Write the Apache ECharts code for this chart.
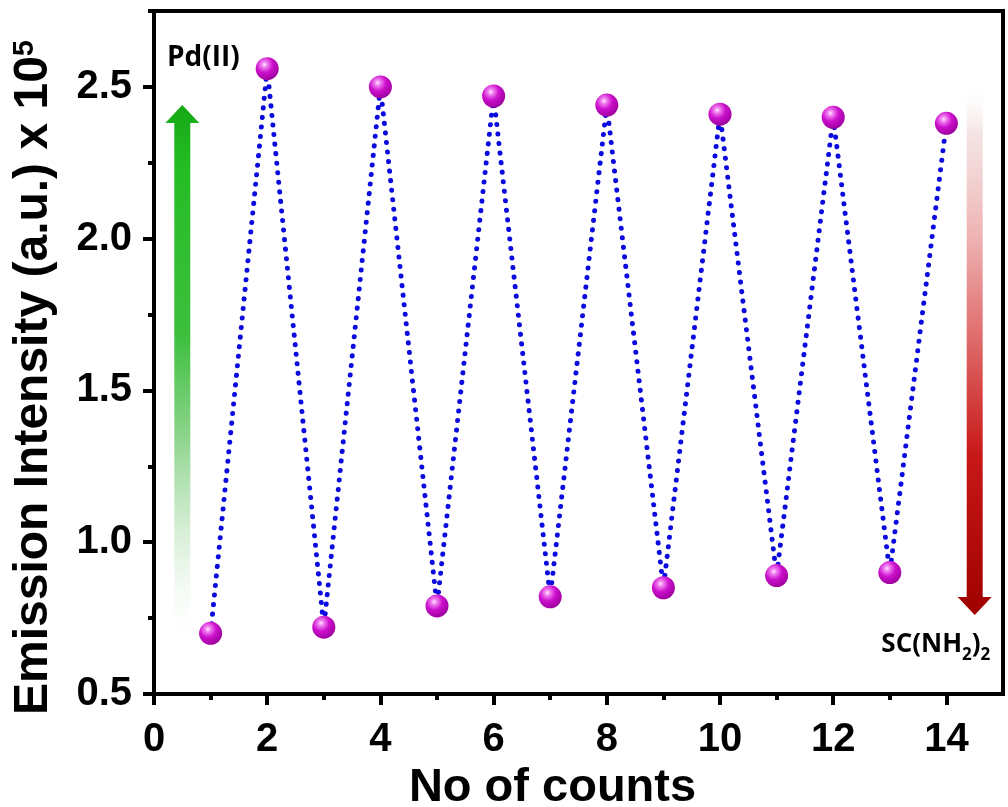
<!DOCTYPE html>
<html>
<head>
<meta charset="utf-8">
<script src="https://cdn.jsdelivr.net/npm/echarts@6/dist/echarts.min.js"></script>
<style>
  html, body { margin: 0; padding: 0; background: #fff; }
  #chart { width: 1008px; height: 807px; }
</style>
</head>
<body>
<div id="chart"></div>
<script>
// ---- data ----
const counts = [1, 2, 3, 4, 5, 6, 7, 8, 9, 10, 11, 12, 13, 14];
const intensity = [0.70, 2.56, 0.72, 2.50, 0.79, 2.47, 0.82, 2.44, 0.85, 2.41, 0.89, 2.40, 0.90, 2.38];
const xTickValues = [0, 2, 4, 6, 8, 10, 12, 14];
const xMinorTickValues = [1, 3, 5, 7, 9, 11, 13];
const yTickValues = [0.5, 1.0, 1.5, 2.0, 2.5];
const yMinorTickValues = [0.75, 1.25, 1.75, 2.25, 2.75];
const xTitle = 'No of counts';
const yTitle = 'Emission Intensity (a.u.) x 10';
const yTitleExp = '5';
const topLabel = 'Pd(II)';

const seriesData = counts.map((c, i) => [c, intensity[i]]);

const FONT = '"Liberation Sans", Arial, sans-serif';
const LFONT = '"Open Sans", sans-serif';
const chart = echarts.init(document.getElementById('chart'), null, { renderer: 'canvas' });

const baseX = { type: 'value', min: 0, max: 15, position: 'bottom' };
const baseY = { type: 'value', min: 0.5, max: 2.75, position: 'left' };

const option = {
  backgroundColor: '#fff',
  animation: false,
  grid: {
    left: 154, right: 5, top: 11, bottom: 113,
    containLabel: false, outerBoundsMode: 'none',
    show: true, borderColor: '#000', borderWidth: 4, backgroundColor: 'transparent'
  },
  xAxis: [
    Object.assign({}, baseX, {
      name: xTitle,
      nameLocation: 'middle',
      nameGap: 71,
      nameTextStyle: { fontFamily: FONT, fontWeight: 'bold', fontSize: 47, color: '#000', padding: [0, 52, 0, 0] },
      axisLine: { show: true, lineStyle: { color: '#000', width: 4 } },
      axisTick: { show: true, inside: false, length: 11, lineStyle: { color: '#000', width: 4 }, customValues: xTickValues },
      axisLabel: { show: true, margin: 26, fontFamily: FONT, fontWeight: 'bold', fontSize: 40, color: '#000', customValues: xTickValues },
      splitLine: { show: false }
    }),
    Object.assign({}, baseX, {
      axisLine: { show: false },
      axisTick: { show: true, inside: false, length: 6, lineStyle: { color: '#000', width: 4 }, customValues: xMinorTickValues },
      axisLabel: { show: false },
      splitLine: { show: false }
    })
  ],
  yAxis: [
    Object.assign({}, baseY, {
      name: yTitle + '{sup|' + yTitleExp + '}',
      nameLocation: 'middle',
      nameRotate: 90,
      nameGap: 96,
      nameTextStyle: {
        fontFamily: FONT, fontWeight: 'bold', fontSize: 48, color: '#000', padding: [0, 50, 0, 0],
        rich: { sup: { fontFamily: FONT, fontWeight: 'bold', fontSize: 29, color: '#000', verticalAlign: 'top' } }
      },
      axisLine: { show: true, lineStyle: { color: '#000', width: 4 } },
      axisTick: { show: true, inside: false, length: 11, lineStyle: { color: '#000', width: 4 }, customValues: yTickValues },
      axisLabel: { show: true, margin: 22, fontFamily: FONT, fontWeight: 'bold', fontSize: 40, color: '#000', customValues: yTickValues, formatter: v => Number(v).toFixed(1) },
      splitLine: { show: false }
    }),
    Object.assign({}, baseY, {
      axisLine: { show: false },
      axisTick: { show: true, inside: false, length: 6, lineStyle: { color: '#000', width: 4 }, customValues: yMinorTickValues },
      axisLabel: { show: false },
      splitLine: { show: false }
    })
  ],
  series: [{
    type: 'line',
    xAxisIndex: 0,
    yAxisIndex: 0,
    data: seriesData,
    symbol: 'circle',
    symbolSize: 23,
    z: 5,
    lineStyle: { color: '#0a0ae0', width: 5, type: [0.1, 9.5], cap: 'round' },
    itemStyle: {
      color: {
        type: 'radial', x: 0.38, y: 0.32, r: 0.72,
        colorStops: [
          { offset: 0, color: '#ffe6ff' },
          { offset: 0.18, color: '#f07cf0' },
          { offset: 0.5, color: '#cc10cc' },
          { offset: 1, color: '#9a009a' }
        ]
      },
      borderWidth: 0
    },
    emphasis: { disabled: true }
  }]
};
chart.setOption(option);

// ---- annotations (arrows and labels) placed via data coordinates ----
function px(x, y) { return chart.convertToPixel({ gridIndex: 0 }, [x, y]); }

function arrowPoints(cx, yStart, yEnd, up) {
  const hw = 8, headHw = 17, headLen = 18;
  const base = up ? yEnd + headLen : yEnd - headLen;
  return [[cx, yEnd], [cx + headHw, base], [cx + hw, base], [cx + hw, yStart], [cx - hw, yStart], [cx - hw, base], [cx - headHw, base]];
}

const gBottom = px(0.5, 0.64), gTop = px(0.5, 2.44);
const rTop = px(14.5, 2.52), rTip = px(14.5, 0.76);
const pdPos = px(0.23, 2.64);
const scPos = px(12.85, 0.725);

chart.setOption({
  graphic: [
    {
      type: 'polygon', z: 1,
      shape: { points: arrowPoints(gTop[0], gBottom[1], gTop[1], true) },
      style: {
        fill: new echarts.graphic.LinearGradient(0, 0, 0, 1, [
          { offset: 0, color: '#16a916' },
          { offset: 0.12, color: '#25bd25' },
          { offset: 0.42, color: '#3dbf3d' },
          { offset: 0.62, color: '#92d692' },
          { offset: 0.82, color: 'rgba(215,238,215,0.7)' },
          { offset: 1, color: 'rgba(255,255,255,0)' }
        ])
      }
    },
    {
      type: 'polygon', z: 1,
      shape: { points: arrowPoints(rTop[0], rTop[1], rTip[1], false) },
      style: {
        fill: new echarts.graphic.LinearGradient(0, 0, 0, 1, [
          { offset: 0, color: 'rgba(255,255,255,0)' },
          { offset: 0.1, color: 'rgba(240,215,215,0.7)' },
          { offset: 0.3, color: '#eeb0b0' },
          { offset: 0.5, color: '#de6464' },
          { offset: 0.7, color: '#c81818' },
          { offset: 1, color: '#a00000' }
        ])
      }
    },
    {
      type: 'text', z: 10,
      x: pdPos[0], y: pdPos[1],
      style: { text: topLabel, fontFamily: LFONT, fontWeight: 'bold', fontSize: 28, fill: '#000', textVerticalAlign: 'top' }
    },
    {
      type: 'text', z: 10,
      x: scPos[0], y: scPos[1],
      style: {
        text: '{m|SC(NH}{s|2}{m|)}{s|2}',
        textVerticalAlign: 'top',
        rich: {
          m: { fontFamily: LFONT, fontWeight: 'bold', fontSize: 26, fill: '#000', lineHeight: 38 },
          s: { fontFamily: LFONT, fontWeight: 'bold', fontSize: 17, fill: '#000', verticalAlign: 'bottom' }
        }
      }
    }
  ]
});
</script>
</body>
</html>
